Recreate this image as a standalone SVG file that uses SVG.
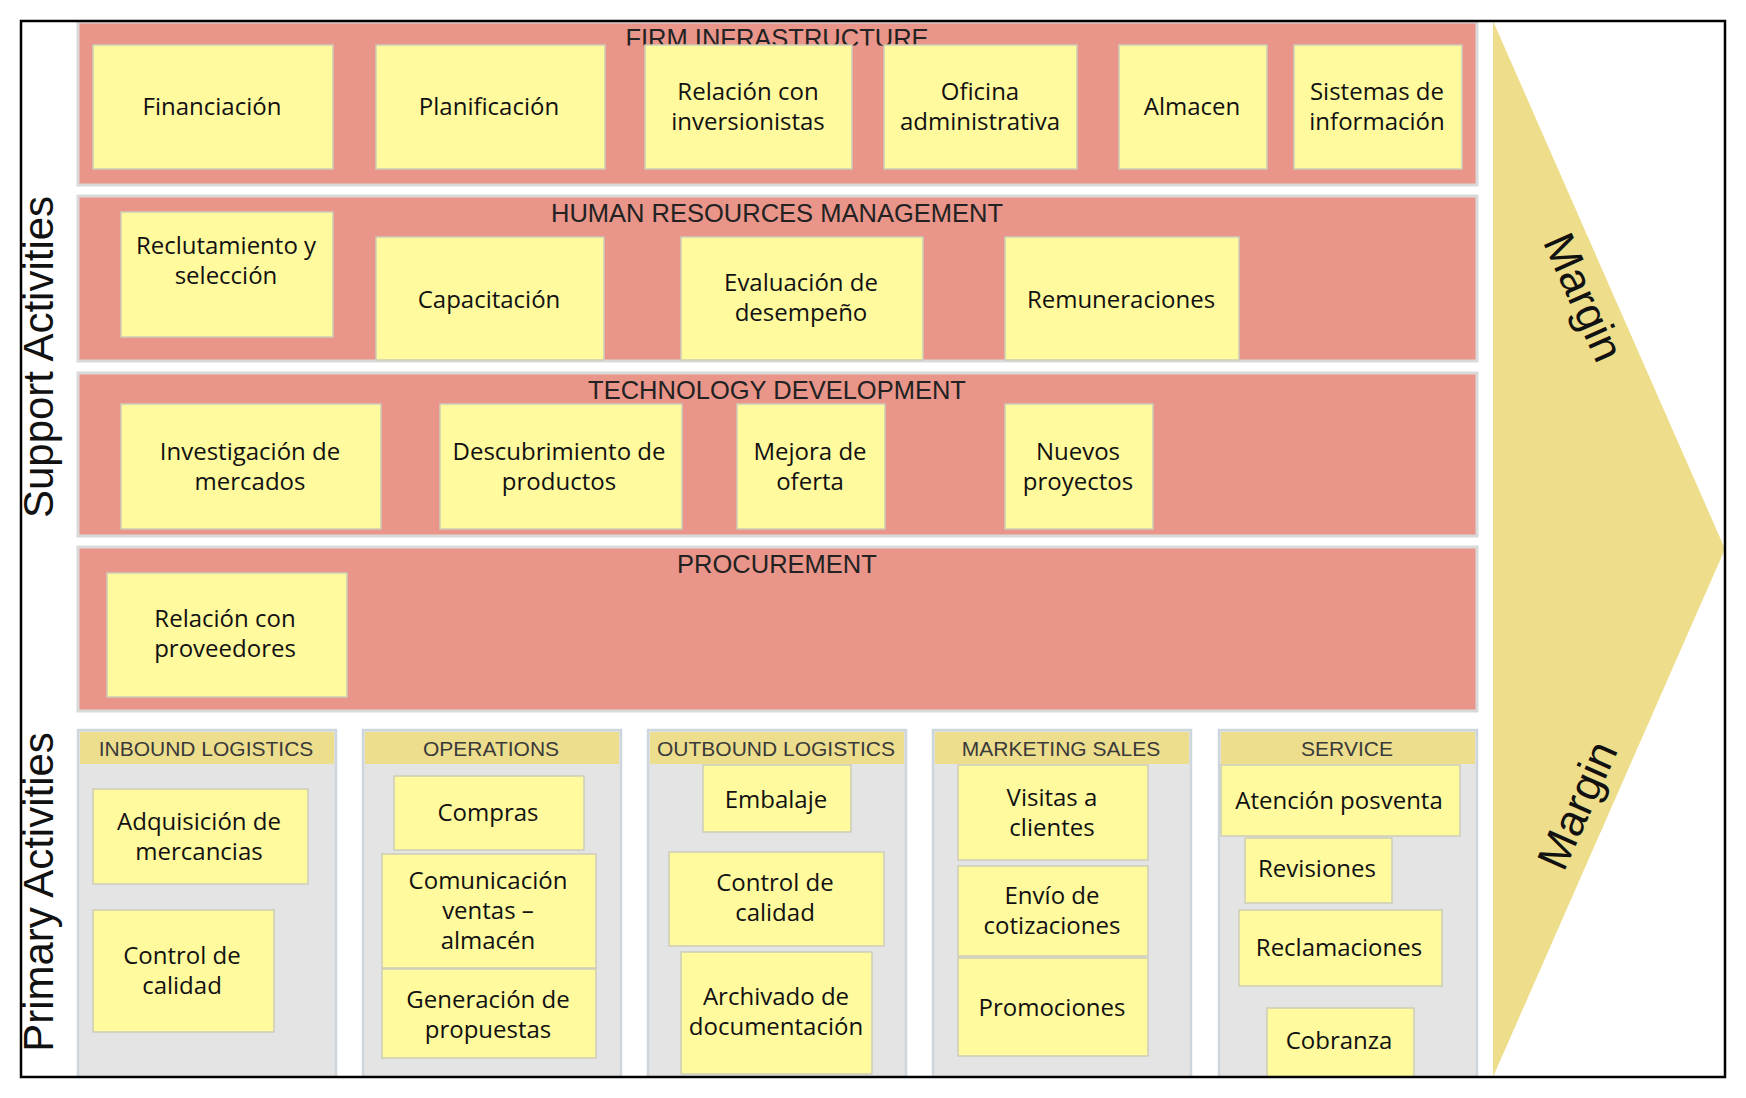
<svg xmlns="http://www.w3.org/2000/svg" width="1746" height="1098" viewBox="0 0 1746 1098">
<defs>
<style>
.row{fill:#E9958A;stroke:#D9D9D9;stroke-width:3}
.st{fill:#FFFA9E;stroke:#CDCDB8;stroke-width:1.5}
.t{font-family:"Open Sans","DejaVu Sans",sans-serif;font-size:24px;fill:#111;text-anchor:middle;dominant-baseline:central;transform:translateY(-1.5px)}
.title{font-family:"Liberation Sans",Arial,sans-serif;font-size:25.5px;fill:#222;text-anchor:middle}
.pan{fill:#E4E4E4;stroke:#CDD6DD;stroke-width:2.5}
.hdr{fill:#EDDE8D}
.ht{font-family:"Liberation Sans",Arial,sans-serif;font-size:21px;fill:#3A3A3A;text-anchor:middle}
.side{font-family:"Liberation Sans",Arial,sans-serif;font-size:42px;fill:#111;text-anchor:middle}
.mg{font-family:"Liberation Sans",Arial,sans-serif;font-size:44px;fill:#111;text-anchor:middle;dominant-baseline:central}
</style>
<clipPath id="c1"><rect x="21" y="21" width="1704" height="24.5"/></clipPath>
</defs>
<rect width="1746" height="1098" fill="#fff"/>

<g id="margin">
<polygon points="1493,21 1725,549 1493,1077" fill="#EEDE8B"/>
<text class="mg" transform="translate(1584,297) rotate(66)">Margin</text>
<text class="mg" transform="translate(1577,805) rotate(-66)">Margin</text>
</g>

<g id="side-labels">
<text class="side" transform="translate(53,357) rotate(-90)">Support Activities</text>
<text class="side" transform="translate(53,892) rotate(-90)">Primary Activities</text>
</g>

<g id="firm-infrastructure">
<rect class="row" x="78" y="22" width="1399" height="163"/>
<text class="title" x="777" y="47" clip-path="url(#c1)">FIRM INFRASTRUCTURE</text>
</g>
<g id="human-resources">
<rect class="row" x="78" y="196" width="1399" height="165"/>
<text class="title" x="777" y="222">HUMAN RESOURCES MANAGEMENT</text>
</g>
<g id="technology-development">
<rect class="row" x="78" y="373" width="1399" height="163"/>
<text class="title" x="777" y="399">TECHNOLOGY DEVELOPMENT</text>
</g>
<g id="procurement">
<rect class="row" x="78" y="547" width="1399" height="164"/>
<text class="title" x="777" y="573">PROCUREMENT</text>
</g>

<g id="n-financiacion"><rect class="st" x="93" y="45" width="240" height="124"/><text class="t" x="212" y="107">Financiación</text></g>
<g id="n-planificacion"><rect class="st" x="376" y="45" width="229" height="124"/><text class="t" x="489" y="107">Planificación</text></g>
<g id="n-relacion-inversionistas"><rect class="st" x="645" y="45" width="207" height="124"/><text class="t" x="748" y="92">Relación con</text><text class="t" x="748" y="122">inversionistas</text></g>
<g id="n-oficina"><rect class="st" x="884" y="45" width="193" height="124"/><text class="t" x="980" y="92">Oficina</text><text class="t" x="980" y="122">administrativa</text></g>
<g id="n-almacen"><rect class="st" x="1119" y="45" width="148" height="124"/><text class="t" x="1192" y="107">Almacen</text></g>
<g id="n-sistemas"><rect class="st" x="1294" y="45" width="168" height="124"/><text class="t" x="1377" y="92">Sistemas de</text><text class="t" x="1377" y="122">información</text></g>

<g id="n-reclutamiento"><rect class="st" x="121" y="212" width="212" height="125"/><text class="t" x="226" y="246">Reclutamiento y</text><text class="t" x="226" y="276">selección</text></g>
<g id="n-capacitacion"><rect class="st" x="376" y="237" width="228" height="123"/><text class="t" x="489" y="300">Capacitación</text></g>
<g id="n-evaluacion"><rect class="st" x="681" y="237" width="242" height="123"/><text class="t" x="801" y="283">Evaluación de</text><text class="t" x="801" y="313">desempeño</text></g>
<g id="n-remuneraciones"><rect class="st" x="1005" y="237" width="234" height="123"/><text class="t" x="1121" y="300">Remuneraciones</text></g>

<g id="n-investigacion"><rect class="st" x="121" y="404" width="260" height="125"/><text class="t" x="250" y="452">Investigación de</text><text class="t" x="250" y="482">mercados</text></g>
<g id="n-descubrimiento"><rect class="st" x="440" y="404" width="242" height="125"/><text class="t" x="559" y="452">Descubrimiento de</text><text class="t" x="559" y="482">productos</text></g>
<g id="n-mejora"><rect class="st" x="737" y="404" width="148" height="125"/><text class="t" x="810" y="452">Mejora de</text><text class="t" x="810" y="482">oferta</text></g>
<g id="n-nuevos"><rect class="st" x="1005" y="404" width="148" height="125"/><text class="t" x="1078" y="452">Nuevos</text><text class="t" x="1078" y="482">proyectos</text></g>

<g id="n-proveedores"><rect class="st" x="107" y="573" width="240" height="124"/><text class="t" x="225" y="619">Relación con</text><text class="t" x="225" y="649">proveedores</text></g>

<g id="inbound-logistics">
<rect class="pan" x="78" y="730" width="258" height="360"/>
<rect class="hdr" x="80" y="732" width="254" height="32"/>
<text class="ht" x="206" y="756">INBOUND LOGISTICS</text>
</g>
<g id="operations">
<rect class="pan" x="363" y="730" width="258" height="360"/>
<rect class="hdr" x="365" y="732" width="254" height="32"/>
<text class="ht" x="491" y="756">OPERATIONS</text>
</g>
<g id="outbound-logistics">
<rect class="pan" x="648" y="730" width="258" height="360"/>
<rect class="hdr" x="650" y="732" width="254" height="32"/>
<text class="ht" x="776" y="756">OUTBOUND LOGISTICS</text>
</g>
<g id="marketing-sales">
<rect class="pan" x="933" y="730" width="258" height="360"/>
<rect class="hdr" x="935" y="732" width="254" height="32"/>
<text class="ht" x="1061" y="756">MARKETING SALES</text>
</g>
<g id="service">
<rect class="pan" x="1219" y="730" width="258" height="360"/>
<rect class="hdr" x="1221" y="732" width="254" height="32"/>
<text class="ht" x="1347" y="756">SERVICE</text>
</g>

<g id="n-adquisicion"><rect class="st" x="93" y="789" width="215" height="95"/><text class="t" x="199" y="822">Adquisición de</text><text class="t" x="199" y="852">mercancias</text></g>
<g id="n-control-in"><rect class="st" x="93" y="910" width="181" height="122"/><text class="t" x="182" y="956">Control de</text><text class="t" x="182" y="986">calidad</text></g>

<g id="n-compras"><rect class="st" x="394" y="776" width="190" height="74"/><text class="t" x="488" y="813">Compras</text></g>
<g id="n-comunicacion"><rect class="st" x="382" y="854" width="214" height="114"/><text class="t" x="488" y="881">Comunicación</text><text class="t" x="488" y="911">ventas –</text><text class="t" x="488" y="941">almacén</text></g>
<g id="n-generacion"><rect class="st" x="382" y="969" width="214" height="89"/><text class="t" x="488" y="1000">Generación de</text><text class="t" x="488" y="1030">propuestas</text></g>

<g id="n-embalaje"><rect class="st" x="703" y="765" width="148" height="67"/><text class="t" x="776" y="800">Embalaje</text></g>
<g id="n-control-out"><rect class="st" x="669" y="852" width="215" height="94"/><text class="t" x="775" y="883">Control de</text><text class="t" x="775" y="913">calidad</text></g>
<g id="n-archivado"><rect class="st" x="681" y="952" width="191" height="122"/><text class="t" x="776" y="997">Archivado de</text><text class="t" x="776" y="1027">documentación</text></g>

<g id="n-visitas"><rect class="st" x="958" y="765" width="190" height="95"/><text class="t" x="1052" y="798">Visitas a</text><text class="t" x="1052" y="828">clientes</text></g>
<g id="n-envio"><rect class="st" x="958" y="866" width="190" height="90"/><text class="t" x="1052" y="896">Envío de</text><text class="t" x="1052" y="926">cotizaciones</text></g>
<g id="n-promociones"><rect class="st" x="958" y="958" width="190" height="98"/><text class="t" x="1052" y="1008">Promociones</text></g>

<g id="n-atencion"><rect class="st" x="1221" y="765" width="239" height="71"/><text class="t" x="1339" y="801">Atención posventa</text></g>
<g id="n-revisiones"><rect class="st" x="1245" y="838" width="147" height="65"/><text class="t" x="1317" y="869">Revisiones</text></g>
<g id="n-reclamaciones"><rect class="st" x="1239" y="910" width="203" height="76"/><text class="t" x="1339" y="948">Reclamaciones</text></g>
<g id="n-cobranza"><rect class="st" x="1267" y="1008" width="147" height="80"/><text class="t" x="1339" y="1041">Cobranza</text></g>

<g id="connectors"></g>

<rect x="0" y="1078" width="1746" height="20" fill="#fff"/>
<rect id="frame" x="21" y="21" width="1704" height="1056" fill="none" stroke="#000" stroke-width="2.5"/>
</svg>
